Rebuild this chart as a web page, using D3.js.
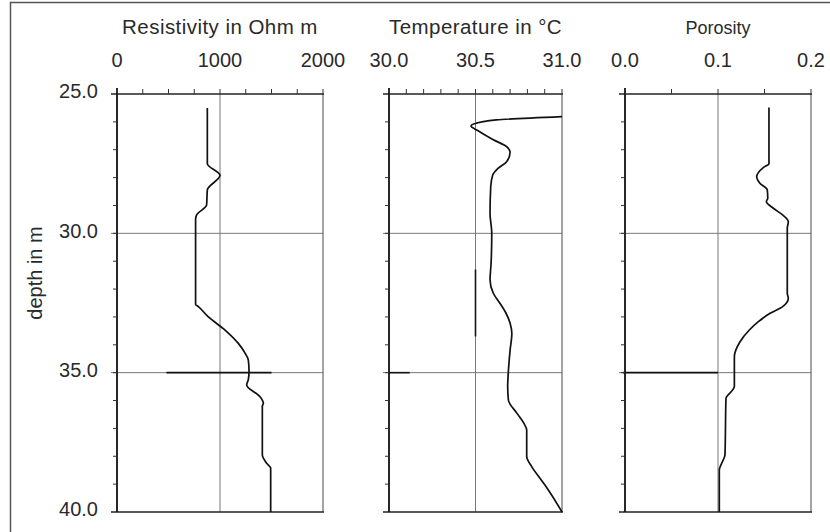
<!DOCTYPE html>
<html>
<head>
<meta charset="utf-8">
<script src="https://cdn.jsdelivr.net/npm/d3@7"></script>
<style>
  body { margin: 0; background: #fff; }
  text { font-family: "Liberation Sans", Arial, sans-serif; fill: #2a2a2a; }
</style>
</head>
<body>
<script>
'use strict';

// depth in m (shared y axis)
const depthDomain = [25, 40];
const depthTicks = [25, 30, 35, 40];

// resistivity log
const resDepth = [25.5, 27.5, 27.92, 28.44, 28.98, 29.34, 29.5, 32.55, 32.63, 33.0, 33.47, 33.95, 34.3, 34.55, 34.96, 35.25, 35.44, 35.86, 36.1, 36.2, 37.95, 38.25, 38.43, 40.0];
const resValue = [877, 877, 1000, 877, 870, 773, 763, 763, 790, 887, 1049, 1178, 1243, 1275, 1282, 1275, 1259, 1388, 1421, 1411, 1411, 1453, 1492, 1492];

// temperature log
const tempDepth = [25.81, 25.93, 25.99, 26.15, 26.3, 26.63, 26.89, 27.1, 27.43, 27.67, 27.9, 28.33, 29.28, 30.0, 31.08, 31.67, 32.15, 32.5, 32.85, 33.23, 33.59, 34.19, 34.96, 35.5, 35.98, 36.46, 36.82, 37.06, 38.01, 38.37, 38.85, 39.2, 40.0];
const tempValue = [31.0, 30.62, 30.545, 30.474, 30.51, 30.60, 30.68, 30.70, 30.68, 30.63, 30.60, 30.588, 30.584, 30.594, 30.59, 30.584, 30.603, 30.64, 30.675, 30.70, 30.71, 30.70, 30.69, 30.686, 30.69, 30.74, 30.78, 30.796, 30.796, 30.825, 30.88, 30.92, 31.0];

// porosity log
const poroDepth = [25.48, 27.5, 27.64, 27.97, 28.2, 28.44, 28.74, 28.86, 29.1, 29.34, 29.58, 29.82, 32.15, 32.33, 32.63, 32.87, 33.17, 33.47, 33.89, 34.43, 35.5, 35.62, 35.92, 37.95, 38.25, 38.49, 40.0];
const poroValue = [0.1548, 0.1548, 0.1487, 0.1416, 0.145, 0.153, 0.1535, 0.152, 0.1595, 0.1695, 0.1756, 0.1745, 0.1745, 0.1756, 0.1695, 0.156, 0.1434, 0.1337, 0.1237, 0.1176, 0.1176, 0.1158, 0.1086, 0.1075, 0.104, 0.1014, 0.1014];

const titles = ["Resistivity in Ohm m", "Temperature in \u00B0C", "Porosity"];
const resTicks = [0, 1000, 2000];
const tempTicks = [30.0, 30.5, 31.0];
const poroTicks = [0.0, 0.1, 0.2];

// dark marker strokes seen on the original plot
const resMark = [480, 1500];
const tempMark = [30.0, 30.12];
const poroMark = [-0.002, 0.1];
const tempVMark = { value: 30.5, depths: [31.3, 33.7] };

const width = 830, height = 532;
const plotTop = 94, plotBottom = 512;

const svg = d3.select("body").append("svg")
    .attr("width", width)
    .attr("height", height);

// outer frame
svg.append("rect")
    .attr("x", 10.5).attr("y", 2.5)
    .attr("width", 840).attr("height", 560)
    .attr("fill", "none")
    .attr("stroke", "#555")
    .attr("stroke-width", 1.5);

let y = d3.scaleLinear().domain(depthDomain).range([plotTop, plotBottom]);

let panels = [
    { title: titles[0], depth: resDepth, value: resValue, domain: [0, 2000], range: [117, 323],
      ticks: resTicks, minor: d3.range(0, 2001, 250), fmt: d3.format("d"), mark: resMark, tsize: 20.5, ls: 0.45 },
    { title: titles[1], depth: tempDepth, value: tempValue, domain: [30, 31], range: [389, 562],
      ticks: tempTicks, minor: d3.range(0, 11).map(i => 30 + i / 10), fmt: d3.format(".1f"), mark: tempMark, tsize: 20.5, ls: 0.45 },
    { title: titles[2], depth: poroDepth, value: poroValue, domain: [0, 0.2], range: [625, 811],
      ticks: poroTicks, minor: d3.range(0, 5).map(i => i * 0.05), fmt: d3.format(".1f"), mark: poroMark, tsize: 18, ls: 0 }
];

panels.forEach(function(p, i) {
    let x = d3.scaleLinear().domain(p.domain).range(p.range);
    let g = svg.append("g");
    let x0 = p.range[0], x1 = p.range[1];

    // gridlines
    g.selectAll("line.hgrid")
        .data([30, 35])
        .enter().append("line")
        .attr("x1", x0 - 6).attr("x2", x1)
        .attr("y1", d => y(d)).attr("y2", d => y(d))
        .attr("stroke", "#777").attr("stroke-width", 1);
    g.append("line")
        .attr("x1", x(p.ticks[1])).attr("x2", x(p.ticks[1]))
        .attr("y1", plotTop).attr("y2", plotBottom)
        .attr("stroke", "#777").attr("stroke-width", 1);

    // dark marker at 35 m
    g.append("line")
        .attr("x1", x(p.mark[0])).attr("x2", x(p.mark[1]))
        .attr("y1", y(35)).attr("y2", y(35))
        .attr("stroke", "#111").attr("stroke-width", 1.6);

    if (i === 1) {
        g.append("line")
            .attr("x1", x(tempVMark.value)).attr("x2", x(tempVMark.value))
            .attr("y1", y(tempVMark.depths[0])).attr("y2", y(tempVMark.depths[1]))
            .attr("stroke", "#111").attr("stroke-width", 1.6);
    }

    // frame
    g.append("line").attr("x1", x1).attr("x2", x1).attr("y1", plotTop).attr("y2", plotBottom)
        .attr("stroke", "#666").attr("stroke-width", 1.2);
    g.append("line").attr("x1", x0 - 6).attr("x2", x1 + 1).attr("y1", plotTop).attr("y2", plotTop)
        .attr("stroke", "#222").attr("stroke-width", 1.5);
    g.append("line").attr("x1", x0 - 6).attr("x2", x1 + 1).attr("y1", plotBottom).attr("y2", plotBottom)
        .attr("stroke", "#222").attr("stroke-width", 1.5);
    g.append("line").attr("x1", x0).attr("x2", x0).attr("y1", plotTop - 6).attr("y2", plotBottom)
        .attr("stroke", "#111").attr("stroke-width", 1.8);

    // depth minor ticks
    g.selectAll("line.ytick")
        .data(d3.range(26, 40))
        .enter().append("line")
        .attr("x1", x0 - 4).attr("x2", x0)
        .attr("y1", d => y(d)).attr("y2", d => y(d))
        .attr("stroke", "#333").attr("stroke-width", 1);

    // top minor ticks
    g.selectAll("line.xtick")
        .data(p.minor)
        .enter().append("line")
        .attr("x1", d => x(d)).attr("x2", d => x(d))
        .attr("y1", plotTop).attr("y2", plotTop - 5)
        .attr("stroke", "#333").attr("stroke-width", 1);

    // tick labels
    g.selectAll("text.xlab")
        .data(p.ticks)
        .enter().append("text")
        .attr("x", d => x(d))
        .attr("y", 67)
        .attr("text-anchor", "middle")
        .style("font-size", "20px")
        .text(d => p.fmt(d));

    // title
    g.append("text")
        .attr("x", (x0 + x1) / 2)
        .attr("y", 34)
        .attr("text-anchor", "middle")
        .style("font-size", p.tsize + "px")
        .style("letter-spacing", p.ls + "px")
        .text(p.title);

    // log curve
    let pts = p.depth.map((d, k) => [x(p.value[k]), y(d)]);
    let line = d3.line().curve(d3.curveMonotoneY);
    g.append("path")
        .attr("d", line(pts))
        .attr("fill", "none")
        .attr("stroke", "#111")
        .attr("stroke-width", 1.7);
});

// depth labels
svg.selectAll("text.ylab")
    .data(depthTicks)
    .enter().append("text")
    .attr("x", 98)
    .attr("y", d => y(d))
    .attr("dy", "0.22em")
    .attr("text-anchor", "end")
    .style("font-size", "20px")
    .text(d => d3.format(".1f")(d));

svg.append("text")
    .attr("transform", "translate(42,273) rotate(-90)")
    .attr("text-anchor", "middle")
    .style("font-size", "20px")
    .text("depth in m");
</script>
</body>
</html>
